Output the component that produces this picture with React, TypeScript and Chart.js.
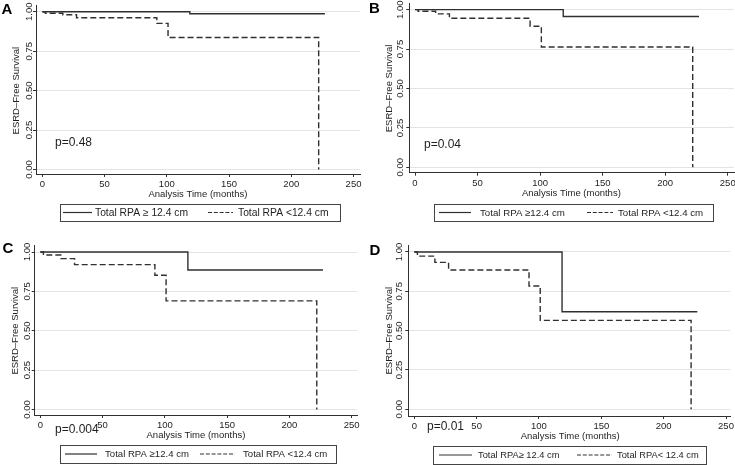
import React, { useEffect, useRef } from 'react';
import { Chart, registerables } from 'chart.js';
Chart.register(...registerables);

// ---------- data ----------
const xTickValues = [0, 50, 100, 150, 200, 250];
const xTickLabels = ['0', '50', '100', '150', '200', '250'];
const yTickValues = [0, 0.25, 0.5, 0.75, 1];
const yTickLabels = ['0.00', '0.25', '0.50', '0.75', '1.00'];

const timesSolid = [0, 118.5, 227];
const timesDashed = [0, 2.5, 16.5, 27.5, 92, 101, 222];

const solidA = [1, 0.987, 0.987];
const dashedA = [1, 0.99, 0.981, 0.962, 0.926, 0.837, 0];
const solidB = [1, 0.957, 0.957];
const dashedB = [1, 0.99, 0.973, 0.945, 0.895, 0.763, 0];
const solidC = [1, 0.886, 0.886];
const dashedC = [1, 0.981, 0.958, 0.92, 0.852, 0.69, 0];
const solidD = [1, 0.62, 0.62];
const dashedD = [1, 0.974, 0.934, 0.886, 0.784, 0.565, 0];

const panelLetters = ['A', 'B', 'C', 'D'];
const pValues = ['p=0.48', 'p=0.04', 'p=0.004', 'p=0.01'];
const legendSolid = ['Total RPA \u2265 12.4 cm', 'Total RPA \u226512.4 cm', 'Total RPA \u226512.4 cm', 'Total RPA\u2265 12.4 cm'];
const legendDashed = ['Total RPA <12.4 cm', 'Total RPA <12.4 cm', 'Total RPA <12.4 cm', 'Total RPA< 12.4 cm'];
const xTitle = 'Analysis Time (months)';
const yTitle = 'ESRD\u2013Free Survival';

const solidSeries = [solidA, solidB, solidC, solidD];
const dashedSeries = [dashedA, dashedB, dashedC, dashedD];

// ---------- layout (positions/styles) ----------
type Lay = {
  left: number; right: number; top: number; bottom: number;
  xMin: number; xMax: number; yMin: number; yMax: number;
  yTitleX: number; yGap: number;
  pX: number; pY: number; letX: number; letY: number;
  lg: { x: number; y: number; w: number; h: number; s0: number; s1: number; t1: number; d0: number; d1: number; t2: number; fs: number };
};

const layouts: Lay[] = [
  { left: 36, right: 360, top: 5, bottom: 174, xMin: -5.06, xMax: 255.2, yMin: -0.0285, yMax: 1.0425,
    yTitleX: 18.5, yGap: 4, pX: 55, pY: 143, letX: 1.5, letY: 10,
    lg: { x: 60, y: 204, w: 280, h: 17, s0: 63, s1: 92, t1: 95, d0: 208, d1: 233, t2: 238, fs: 10.3 } },
  { left: 409.3, right: 734, top: 3.5, bottom: 172.7, xMin: -4.56, xMax: 255.0, yMin: -0.0343, yMax: 1.039,
    yTitleX: 391.5, yGap: 6, pX: 424, pY: 145, letX: 369, letY: 9,
    lg: { x: 434, y: 204, w: 279, h: 17, s0: 439, s1: 471, t1: 480, d0: 587, d1: 613, t2: 618, fs: 9.7 } },
  { left: 34.7, right: 357, top: 245.5, bottom: 415, xMin: -4.5, xMax: 254.3, yMin: -0.0349, yMax: 1.0413,
    yTitleX: 18.3, yGap: 5, pX: 55, pY: 430, letX: 2.5, letY: 249,
    lg: { x: 60, y: 445, w: 276, h: 18, s0: 65, s1: 97, t1: 105, d0: 200, d1: 235, t2: 243, fs: 9.6 } },
  { left: 408.3, right: 730, top: 245.5, bottom: 416, xMin: -4.81, xMax: 253.2, yMin: -0.0426, yMax: 1.0413,
    yTitleX: 392, yGap: 6, pX: 427, pY: 427, letX: 369.5, letY: 251,
    lg: { x: 433, y: 446, w: 273, h: 18, s0: 439, s1: 472, t1: 478, d0: 577, d1: 612, t2: 617, fs: 9.3 } },
];

const FONT = '"Liberation Sans", Arial, Helvetica, sans-serif';
const INK = '#1e1e1e';
const LINE = '#303030';
const GRID = '#e4e4e4';
const W = 735;
const H = 465;

function makeConfig(i: number): any {
  const L = layouts[i];
  const decor = {
    id: 'decor' + i,
    afterDraw(chart: any) {
      const ctx = chart.ctx as CanvasRenderingContext2D;
      const xs = chart.scales.x;
      const ys = chart.scales.y;
      const area = chart.chartArea;
      ctx.save();
      ctx.fillStyle = INK;
      ctx.font = '9.5px ' + FONT;
      // y tick labels (rotated)
      yTickValues.forEach((v, k) => {
        const py = ys.getPixelForValue(v);
        ctx.save();
        ctx.translate(area.left - L.yGap, py);
        ctx.rotate(-Math.PI / 2);
        ctx.textAlign = 'center';
        ctx.textBaseline = 'alphabetic';
        ctx.fillText(yTickLabels[k], 0, 0);
        ctx.restore();
      });
      // y title
      const midY = (ys.getPixelForValue(0) + ys.getPixelForValue(1)) / 2;
      ctx.save();
      ctx.translate(L.yTitleX, midY);
      ctx.rotate(-Math.PI / 2);
      ctx.textAlign = 'center';
      ctx.textBaseline = 'alphabetic';
      ctx.fillText(yTitle, 0, 0);
      ctx.restore();
      // x tick labels
      ctx.textAlign = 'center';
      ctx.textBaseline = 'middle';
      xTickValues.forEach((v, k) => {
        ctx.fillText(xTickLabels[k], xs.getPixelForValue(v), area.bottom + 10.5);
      });
      // x title
      const midX = (xs.getPixelForValue(0) + xs.getPixelForValue(250)) / 2;
      ctx.fillText(xTitle, midX, area.bottom + 20.5);
      // p value
      ctx.textAlign = 'left';
      ctx.font = '12px ' + FONT;
      ctx.fillText(pValues[i], L.pX, L.pY);
      // panel letter
      ctx.font = 'bold 15px ' + FONT;
      ctx.fillStyle = '#000';
      ctx.fillText(panelLetters[i], L.letX, L.letY);
      // legend
      const g = L.lg;
      const cy = g.y + g.h / 2;
      ctx.strokeStyle = '#444';
      ctx.lineWidth = 1;
      ctx.strokeRect(g.x + 0.5, g.y + 0.5, g.w, g.h);
      ctx.strokeStyle = LINE;
      ctx.lineWidth = 1.2;
      ctx.beginPath();
      ctx.moveTo(g.s0, cy);
      ctx.lineTo(g.s1, cy);
      ctx.stroke();
      ctx.setLineDash([4, 1.8]);
      ctx.beginPath();
      ctx.moveTo(g.d0, cy);
      ctx.lineTo(g.d1, cy);
      ctx.stroke();
      ctx.setLineDash([]);
      ctx.fillStyle = INK;
      ctx.font = g.fs + 'px ' + FONT;
      ctx.textBaseline = 'middle';
      ctx.fillText(legendSolid[i], g.t1, cy + 0.5);
      ctx.fillText(legendDashed[i], g.t2, cy + 0.5);
      ctx.restore();
    },
  };

  const solid = solidSeries[i].map((y, k) => ({ x: timesSolid[k], y }));
  const dashed = dashedSeries[i].map((y, k) => ({ x: timesDashed[k], y }));

  return {
    type: 'line',
    data: {
      datasets: [
        { label: 'solid', data: solid, stepped: 'before', borderColor: LINE, borderWidth: 1.4, pointRadius: 0, fill: false },
        { label: 'dashed', data: dashed, stepped: 'before', borderColor: LINE, borderWidth: 1.4, borderDash: [6, 3], pointRadius: 0, fill: false },
      ],
    },
    options: {
      responsive: false,
      animation: false,
      devicePixelRatio: 1,
      events: [],
      layout: {
        padding: { left: L.left - 4, right: W - L.right, top: L.top, bottom: H - L.bottom - 4 },
      },
      plugins: { legend: { display: false }, title: { display: false }, tooltip: { enabled: false } },
      scales: {
        x: {
          type: 'linear',
          min: L.xMin,
          max: L.xMax,
          afterBuildTicks: (s: any) => { s.ticks = xTickValues.map((v) => ({ value: v })); },
          afterFit: (s: any) => { s.height = 4; },
          ticks: { display: false },
          grid: { drawOnChartArea: false, drawTicks: true, tickLength: 3, tickColor: LINE, tickWidth: 1 },
          border: { display: true, color: LINE, width: 1 },
        },
        y: {
          type: 'linear',
          min: L.yMin,
          max: L.yMax,
          afterBuildTicks: (s: any) => { s.ticks = yTickValues.map((v) => ({ value: v })); },
          afterFit: (s: any) => { s.width = 4; },
          ticks: { display: false },
          grid: { drawOnChartArea: true, color: GRID, lineWidth: 1, drawTicks: true, tickLength: 3, tickColor: LINE, tickWidth: 1 },
          border: { display: true, color: LINE, width: 1 },
        },
      },
    },
    plugins: [decor],
  };
}

function Panel({ idx }: { idx: number }) {
  const ref = useRef<HTMLCanvasElement | null>(null);
  useEffect(() => {
    const chart = new Chart(ref.current as HTMLCanvasElement, makeConfig(idx));
    return () => chart.destroy();
  }, [idx]);
  return (
    <canvas
      ref={ref}
      width={W}
      height={H}
      style={{ position: 'absolute', left: 0, top: 0, width: W, height: H }}
    />
  );
}

export default function App() {
  return (
    <div style={{ position: 'fixed', left: 0, top: 0, width: W, height: H, background: '#fff', overflow: 'hidden' }}>
      {[0, 1, 2, 3].map((i) => (
        <Panel key={i} idx={i} />
      ))}
    </div>
  );
}
